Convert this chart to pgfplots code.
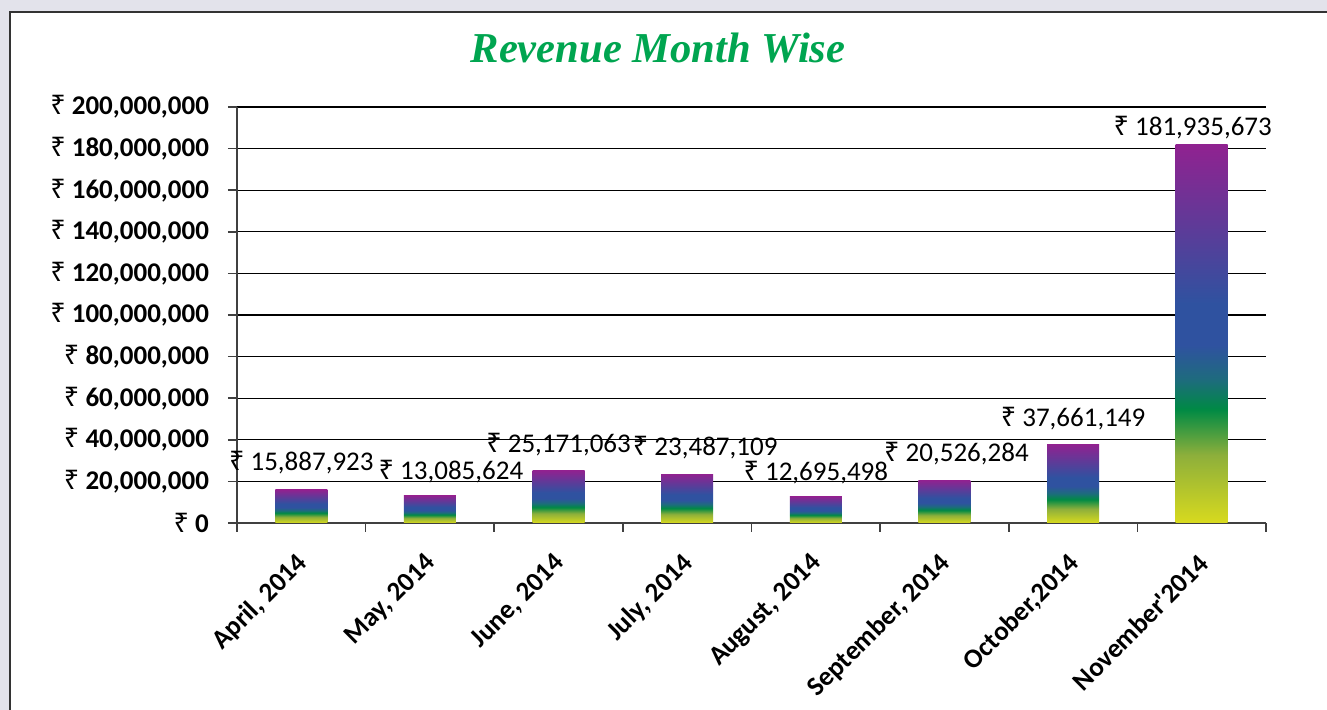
\documentclass[border=0pt]{standalone}
\usepackage{fontspec}
\setmainfont{Carlito}[Ligatures=TeXOff]
\newfontfamily\rupeefont{Noto Sans}
\newfontfamily\titlefont{Liberation Serif}
\usepackage{pgfplots}
\usepackage{pgfplotstable}
\pgfplotsset{compat=1.18}

\definecolor{titlegreen}{HTML}{00A550}
\definecolor{bgray}{HTML}{E3E3EB}
\definecolor{cY}{HTML}{D8DA1E}
\definecolor{cO}{HTML}{8DAF3B}
\definecolor{cG}{HTML}{008A44}
\definecolor{cT}{HTML}{1E6B7E}
\definecolor{cB}{HTML}{2F52A0}
\definecolor{cP}{HTML}{902290}

% bar gradient, bottom (yellow) to top (purple); box maps to 25bp..75bp
\pgfdeclareverticalshading{revbar}{100bp}{color(0bp)=(cY); color(25bp)=(cY);
  color(34bp)=(cO); color(40bp)=(cG); color(44bp)=(cT); color(48.5bp)=(cB);
  color(54bp)=(cB); color(75bp)=(cP); color(100bp)=(cP)}

\newcommand\rs{{\rupeefont ₹}}
\newcommand\lblfont{\fontsize{13.5}{16}\selectfont}

\pgfplotstableread{
x y label dx dy
0 15887923 15,887,923 0 9.75
1 13085624 13,085,624 10.5 8.25
2 25171063 25,171,063 0 9.25
3 23487109 23,487,109 9 9.25
4 12695498 12,695,498 0 8.25
5 20526284 20,526,284 6 9.25
6 37661149 37,661,149 0 9.25
7 181935673 181,935,673 -4.5 4.75
}\revdata

\begin{document}
\begin{tikzpicture}
\fill[bgray] (0,0) rectangle (663.5pt,355pt);
\fill[white] (5pt,0) rectangle (663.5pt,348.75pt);
\draw[line width=1pt, black!80] (5pt,0) -- (5pt,348.75pt) -- (663.5pt,348.75pt);

\node[anchor=base, text=titlegreen, font=\titlefont\bfseries\itshape\fontsize{21.3}{25}\selectfont]
  at (329pt,323.5pt) {Revenue Month Wise};

\begin{axis}[
  at={(118.5pt,93.5pt)}, anchor=south west,
  scale only axis,
  width=514.5pt, height=208pt,
  xmin=-0.5, xmax=7.5,
  ymin=0, ymax=200000000,
  axis x line*=bottom, axis y line*=left,
  axis line style={black!75, line width=0.9pt},
  tick align=outside,
  major tick length=4.5pt,
  tick style={black!75, line width=0.8pt},
  xtick={-0.5,0.5,...,7.5}, xticklabels={},
  extra x ticks={0,1,2,3,4,5,6,7},
  extra x tick labels={{April, 2014},{May, 2014},{June, 2014},{July, 2014},{August, 2014},{September, 2014},{October,2014},{November'2014}},
  extra x tick style={major tick length=0pt, grid=none},
  xticklabel style={font=\bfseries\lblfont, inner sep=0pt, anchor=east, xshift=1pt, yshift=-18pt, rotate=45},
  ytick={0,20000000,40000000,60000000,80000000,100000000,120000000,140000000,160000000,180000000,200000000},
  yticklabels={{\rs\ 0},{\rs\ 20,000,000},{\rs\ 40,000,000},{\rs\ 60,000,000},{\rs\ 80,000,000},{\rs\ 100,000,000},{\rs\ 120,000,000},{\rs\ 140,000,000},{\rs\ 160,000,000},{\rs\ 180,000,000},{\rs\ 200,000,000}},
  yticklabel style={font=\bfseries\lblfont, xshift=-6pt},
  scaled y ticks=false,
  ymajorgrids,
  grid style={black, line width=0.6pt},
  clip=false,
]
% one plot per bar so that each bar gets its own gradient
\pgfplotsinvokeforeach{0,...,7}{
\addplot[ybar, bar width=26pt, bar shift=0pt, draw=none, shade, shading=revbar,
  x filter/.expression={abs(x-#1)<0.2 ? x : nan},
  point meta=explicit symbolic,
  visualization depends on={\thisrow{dx} \as \dx},
  visualization depends on={\thisrow{dy} \as \dy},
  nodes near coords={\rs\ \pgfplotspointmeta},
  every node near coord/.append style={font=\lblfont, text=black, anchor=base, inner sep=0pt, xshift=\dx pt, yshift=\dy pt}]
  table[x=x, y=y, meta=label] {\revdata};
}
\end{axis}
\pgfresetboundingbox
\path[use as bounding box] (0,0) rectangle (663.5pt,355pt);
\end{tikzpicture}
\end{document}
